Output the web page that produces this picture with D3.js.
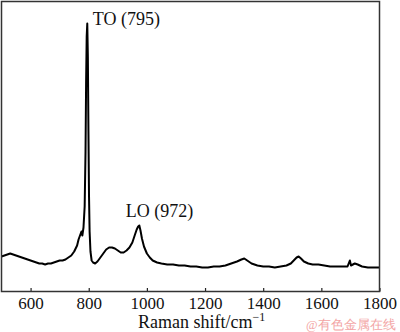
<!DOCTYPE html>
<html>
<head>
<meta charset="utf-8">
<script src="https://cdn.jsdelivr.net/npm/d3@7"></script>
<style>
  html, body { margin: 0; padding: 0; background: #fff; }
  svg { display: block; }
  text { font-family: "Liberation Serif", "Times New Roman", serif; fill: #111; }
</style>
</head>
<body>
<svg id="chart" width="400" height="332"></svg>
<script>
// Raman spectrum (intensity in arbitrary units).
const shift = [
  500, 510, 520, 530, 540, 550, 560, 570, 580, 590,
  600, 610, 620, 630, 640, 650, 660, 670, 680, 690,
  700, 710, 720, 730, 740, 750, 760, 765, 770, 775,
  778, 782, 786, 789, 791, 793, 795, 797, 799, 801,
  803, 806, 810, 815, 822, 830, 840, 850, 860, 870,
  880, 890, 900, 910, 920, 930, 940, 950, 958, 965,
  970, 974, 978, 983, 990, 1000, 1010, 1020, 1035, 1050,
  1070, 1090, 1110, 1130, 1150, 1170, 1190, 1210, 1230, 1250,
  1270, 1290, 1310, 1325, 1335, 1345, 1360, 1380, 1400, 1420,
  1440, 1460, 1480, 1495, 1505, 1515, 1522, 1530, 1540, 1555,
  1570, 1590, 1610, 1630, 1650, 1670, 1690, 1698, 1702, 1715,
  1725, 1740, 1760, 1780, 1800
];
const intensity = [
  35, 36, 37, 38, 37, 36, 35, 34, 33, 32,
  31, 30, 29, 28, 28, 27, 28, 28, 29, 30,
  31, 31, 32, 34, 36, 40, 46, 52, 56, 60,
  56, 64, 85, 140, 210, 255, 268, 235, 160, 95,
  60, 40, 31, 29, 28, 30, 34, 38, 42, 44,
  44, 43, 41, 39, 39, 41, 44, 49, 56, 62,
  65, 66, 61, 53, 45, 38, 34, 31, 29, 28,
  27, 27, 26, 26, 25, 25, 24, 24, 25, 25,
  26, 28, 30, 32, 33, 31, 28, 26, 25, 25,
  24, 25, 26, 28, 31, 34, 35, 33, 30, 28,
  27, 27, 26, 25, 25, 25, 25, 31, 26, 28,
  27, 25, 24, 24, 24
];
const xTicks = [600, 800, 1000, 1200, 1400, 1600, 1800];
const peaks = [
  { shift: 795, label: "TO (795)" },
  { shift: 972, label: "LO (972)" }
];

const svg = d3.select("#chart");
const plotL = 1.5, plotR = 379.5, plotT = 1.5, plotB = 291.5;

const x = d3.scaleLinear().domain([500, 1800]).range([plotL, plotR]);
const y = d3.scaleLinear().domain([0, 290]).range([plotB, plotT]);

const data = shift.map((s, i) => ({ s, v: intensity[i] }));

// spectrum
svg.append("path")
  .datum(data)
  .attr("fill", "none")
  .attr("stroke", "#000")
  .attr("stroke-width", 2)
  .attr("stroke-linejoin", "round")
  .attr("d", d3.line().x((d) => x(d.s)).y((d) => y(d.v)));

// bottom axis: inward ticks, labels below the frame
const axis = svg.append("g")
  .attr("transform", `translate(0,${plotB})`)
  .call(d3.axisBottom(x).tickValues(xTicks).tickFormat(d3.format("d"))
    .tickSizeInner(-3.5).tickSizeOuter(0).tickPadding(5.5));
axis.select(".domain").remove();
axis.selectAll(".tick line").attr("stroke", "#222").attr("stroke-width", 1.2);
axis.selectAll(".tick text")
  .attr("font-family", "Liberation Serif, serif")
  .attr("font-size", 17)
  .attr("fill", "#111");

// frame
svg.append("rect")
  .attr("x", plotL).attr("y", plotT)
  .attr("width", plotR - plotL).attr("height", plotB - plotT)
  .attr("fill", "none").attr("stroke", "#333").attr("stroke-width", 1.5);

// peak labels
svg.append("text")
  .attr("x", x(peaks[0].shift) + 5.5).attr("y", 24.5)
  .attr("font-size", 18)
  .text(peaks[0].label);
svg.append("text")
  .attr("x", x(peaks[1].shift) - 13).attr("y", 217)
  .attr("font-size", 18)
  .text(peaks[1].label);

// axis title
const title = svg.append("text")
  .attr("x", 138).attr("y", 327.5)
  .attr("font-size", 18);
title.append("tspan").text("Raman shift/cm");
title.append("tspan").attr("dy", -7).attr("font-size", 12).text("\u22121");

// watermark
svg.append("text")
  .attr("x", 306).attr("y", 329)
  .attr("font-family", "Noto Sans CJK SC, sans-serif")
  .attr("font-size", 12.5)
  .style("fill", "#f3a5a5")
  .text("@有色金属在线");
</script>
</body>
</html>
